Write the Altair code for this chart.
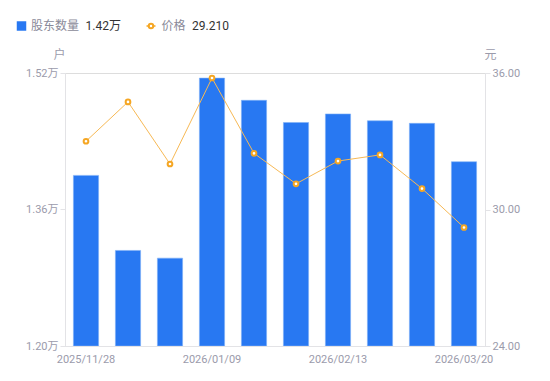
import altair as alt
import pandas as pd

dates = ["2025/11/28", "2025/12/12", "2025/12/26", "2026/01/09", "2026/01/20",
         "2026/01/30", "2026/02/13", "2026/02/27", "2026/03/10", "2026/03/20"]
holders = [1.400, 1.312, 1.303, 1.514, 1.488, 1.462, 1.472, 1.464, 1.461, 1.416]
prices = [33.00, 34.73, 32.00, 35.78, 32.47, 31.13, 32.13, 32.40, 30.92, 29.21]
shown_dates = ["2025/11/28", "2026/01/09", "2026/02/13", "2026/03/20"]
legend_names = ["股东数量", "价格"]
legend_values = ["1.42万", "29.210"]

FONT = "Roboto, 'Noto Sans CJK SC', sans-serif"
GREY = "#9b9bab"
AXIS = "#e3e3e6"
BLUE = "#2878f2"
ORANGE = "#f5a623"

df = pd.DataFrame({"date": dates, "holders": holders, "price": prices})

xenc = alt.X("date:N", sort=dates,
             scale=alt.Scale(paddingInner=0.4, paddingOuter=0.2),
             axis=alt.Axis(title=None, values=shown_dates, labelAngle=0, ticks=False,
                           domainColor=AXIS, labelColor=GREY, labelFontSize=11,
                           labelFont=FONT, labelPadding=7))

bars = alt.Chart(df).mark_bar(color=BLUE, stroke="#7fb0f7", strokeWidth=0.6, clip=True).encode(
    x=xenc,
    y=alt.Y("holders:Q", scale=alt.Scale(domain=[1.20, 1.52], nice=False, zero=False),
            axis=alt.Axis(values=[1.20, 1.36, 1.52], labelExpr="format(datum.value, '.2f') + '万'",
                          grid=False, domainColor=AXIS, tickColor=AXIS, tickSize=5,
                          labelColor=GREY, labelFontSize=11, labelFont=FONT, labelPadding=2,
                          title="户", titleAngle=0, titleX=-6, titleY=-19, titleAlign="center",
                          titleBaseline="middle", titleColor=GREY, titleFontSize=12,
                          titleFontWeight="normal", titleFont=FONT)),
    y2=alt.datum(1.20),
)

yprice = alt.Y("price:Q", scale=alt.Scale(domain=[24, 36], nice=False, zero=False),
               axis=alt.Axis(orient="right", values=[24, 30, 36], format=".2f",
                             grid=False, domainColor=AXIS, tickColor=AXIS, tickSize=5,
                             labelColor=GREY, labelFontSize=11, labelFont=FONT, labelPadding=2,
                             title="元", titleAngle=0, titleX=5, titleY=-19, titleAlign="center",
                             titleBaseline="middle", titleColor=GREY, titleFontSize=12,
                             titleFontWeight="normal", titleFont=FONT))

line = alt.Chart(df).mark_line(color="#f7b955", strokeWidth=1).encode(x=xenc, y=yprice)
pts = alt.Chart(df).mark_point(shape="circle", filled=True, fill="white", stroke=ORANGE,
                               strokeWidth=2, size=22, opacity=1).encode(x=xenc, y=yprice)

price_layer = alt.layer(line, pts)

# legend
LY = -47
leg = pd.DataFrame({"a": [0]})
sq = alt.Chart(leg).mark_square(color=BLUE, size=90, opacity=1, cornerRadius=1).encode(
    x=alt.value(-43.5), y=alt.value(LY))
t1 = alt.Chart(leg).mark_text(text=legend_names[0], align="left", baseline="middle", fontSize=12,
                              font=FONT, color="#8a8a99").encode(x=alt.value(-34), y=alt.value(LY))
t2 = alt.Chart(leg).mark_text(text=legend_values[0], align="left", baseline="middle",
                              fontSize=12, font=FONT, color="#333333").encode(x=alt.value(20.5), y=alt.value(LY))
lr = alt.Chart(leg).mark_rule(color=ORANGE, strokeWidth=1.5).encode(
    x=alt.value(81.5), x2=alt.value(90.5), y=alt.value(LY))
lp = alt.Chart(leg).mark_point(shape="circle", filled=True, fill="white", stroke=ORANGE,
                               strokeWidth=2, size=20, opacity=1).encode(x=alt.value(86), y=alt.value(LY))
t3 = alt.Chart(leg).mark_text(text=legend_names[1], align="left", baseline="middle", fontSize=12,
                              font=FONT, color="#8a8a99").encode(x=alt.value(96.5), y=alt.value(LY))
t4 = alt.Chart(leg).mark_text(text=legend_values[1], align="left", baseline="middle",
                              fontSize=12, font=FONT, color="#333333").encode(x=alt.value(127), y=alt.value(LY))

chart = alt.layer(bars, price_layer, sq, t1, t2, lr, lp, t3, t4).resolve_scale(y="independent").properties(
    width=420, height=273,
    autosize=alt.AutoSizeParams(type="none"),
    padding={"left": 57, "top": 65, "right": 57, "bottom": 27},
).configure_view(stroke=None).configure(background="white")

chart.save("out.html", embed_options={"renderer": "svg", "actions": False})
